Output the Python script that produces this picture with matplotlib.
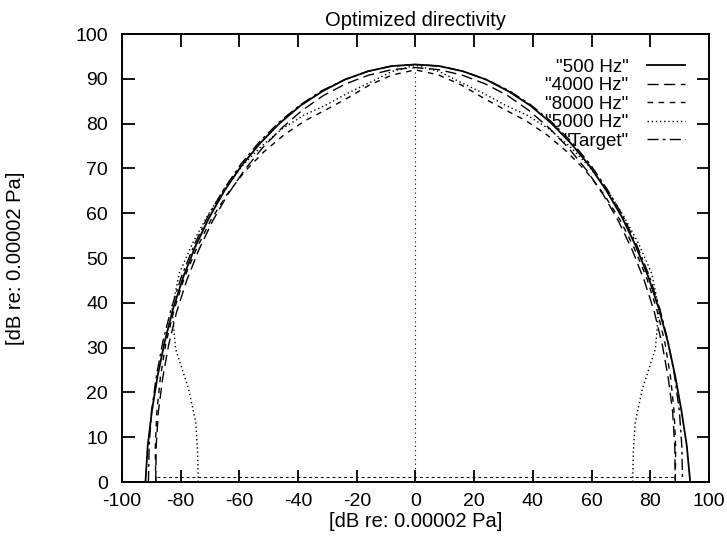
import numpy as np
import matplotlib
matplotlib.use("Agg")
import matplotlib.pyplot as plt

plt.rcParams['font.family'] = ['Liberation Sans', 'DejaVu Sans']
plt.rcParams['axes.unicode_minus'] = False

# angle from the front axis (deg), -90 .. 90 in 5 deg steps
angles = [-90, -85, -80, -75, -70, -65, -60, -55, -50, -45, -40, -35, -30,
          -25, -20, -15, -10, -5, 0, 5, 10, 15, 20, 25, 30, 35, 40, 45, 50,
          55, 60, 65, 70, 75, 80, 85, 90]

# level at each angle [dB re 0.00002 Pa]
lvl_500 = [92.0, 91.6, 91.2, 91.0, 91.0, 91.2, 91.4, 91.6, 91.8, 92.0,
           92.2, 92.3, 92.5, 92.7, 92.8, 93.0, 93.1, 93.2, 93.2, 93.2,
           93.1, 93.0, 92.8, 92.7, 92.5, 92.3, 92.2, 92.0, 91.9, 91.7,
           91.6, 91.5, 91.5, 91.6, 92.0, 92.8, 93.6]
lvl_4000 = [88.5, 88.7, 89.0, 89.2, 89.5, 89.8, 90.0, 90.2, 90.4, 90.6,
            90.8, 91.0, 91.2, 91.5, 91.8, 92.0, 92.2, 92.4, 92.5, 92.4,
            92.2, 92.0, 91.8, 91.5, 91.2, 91.0, 90.8, 90.6, 90.4, 90.2,
            90.0, 89.8, 89.5, 89.2, 89.0, 88.7, 88.5]
lvl_8000 = [88.5, 89.0, 89.5, 90.0, 90.5, 90.8, 91.0, 91.0, 91.0, 90.8,
            90.5, 90.0, 89.5, 89.0, 88.5, 88.8, 90.0, 91.2, 92.0, 91.2,
            90.0, 88.8, 88.5, 89.0, 89.5, 90.0, 90.5, 90.8, 91.0, 91.0,
            91.0, 90.8, 90.5, 90.0, 89.5, 89.0, 88.5]
lvl_5000 = [74.0, 74.5, 76.0, 80.0, 87.0, 91.5, 93.0, 92.8, 92.5, 92.3,
            92.0, 91.5, 91.0, 90.3, 89.5, 89.8, 90.5, 92.0, 93.0, 92.0,
            90.5, 89.8, 89.5, 90.3, 91.0, 91.5, 92.0, 92.3, 92.5, 92.8,
            93.0, 91.5, 87.0, 80.0, 76.0, 74.5, 74.0]
lvl_target = [91.0, 91.1, 91.3, 91.4, 91.6, 91.8, 92.0, 92.1, 92.3, 92.4,
              92.6, 92.7, 92.8, 92.9, 93.0, 93.0, 93.1, 93.2, 93.2, 93.2,
              93.1, 93.0, 93.0, 92.9, 92.8, 92.7, 92.6, 92.4, 92.3, 92.1,
              92.0, 91.8, 91.6, 91.4, 91.3, 91.1, 91.0]

series = [
    ('"500 Hz"', lvl_500, '-', 1.3),
    ('"4000 Hz"', lvl_4000, (0, (8, 4)), 1.0),
    ('"8000 Hz"', lvl_8000, (0, (4, 4)), 1.0),
    ('"5000 Hz"', lvl_5000, (0, (1, 2)), 1.0),
    ('"Target"', lvl_target, (0, (8, 3, 2, 3)), 1.0),
]

fig = plt.figure(figsize=(7.27, 5.4), dpi=100)
ax = fig.add_axes([0.1678, 0.1074, 0.8074, 0.8296])

th = np.radians(angles)
for name, lv, ls, lw in series:
    r = np.array(lv)
    ax.plot(r * np.sin(th), r * np.cos(th), color='black', ls=ls, lw=lw,
            label=name)

# zero axes (gnuplot style)
ax.axvline(0, ymax=0.92, color='black', ls=(0, (1, 3)), lw=0.8)
ax.axhline(1.1, xmin=0.06, xmax=0.94, color='black', ls=(0, (3, 3)), lw=0.7)

ax.set_xlim(-100, 100)
ax.set_ylim(0, 100)
ax.set_xticks(range(-100, 101, 20))
ax.set_yticks(range(0, 101, 10))
ax.tick_params(direction='in', length=9, width=1.3, top=True, right=True,
               labelsize=14)
ax.tick_params(axis='x', pad=8)
ax.tick_params(axis='y', pad=10)
for s in ax.spines.values():
    s.set_linewidth(1.4)

ax.set_title('Optimized directivity', fontsize=14.5, pad=6)
ax.set_xlabel('[dB re: 0.00002 Pa]', fontsize=14.5, labelpad=1)
ax.set_ylabel('[dB re: 0.00002 Pa]', fontsize=14.5, labelpad=36)

ax.legend(loc='upper right', frameon=False, markerfirst=False,
          fontsize=13.5, handlelength=2.0, labelspacing=0.08,
          borderaxespad=0.9, handletextpad=1.0)

fig.savefig('out.png', dpi=100)
